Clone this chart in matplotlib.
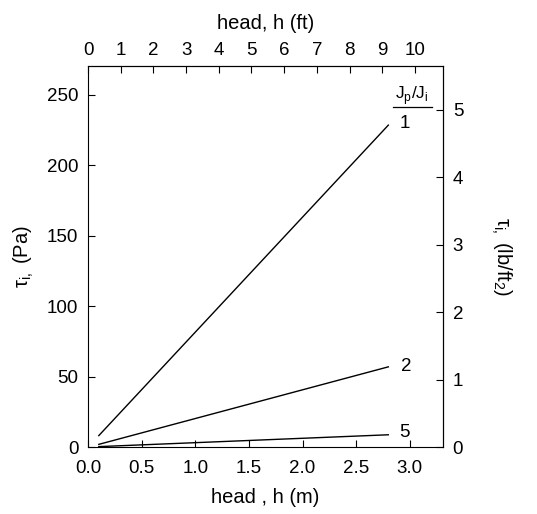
import matplotlib
matplotlib.use("Agg")
import matplotlib.pyplot as plt

plt.rcParams['font.family'] = ['Liberation Sans', 'DejaVu Sans']

# data
head_m = [0.1, 2.8]
tau_1 = [8.2, 228.5]
tau_2 = [2.0, 57.0]
tau_5 = [0.4, 8.8]
ratios = ["1", "2", "5"]
series = [tau_1, tau_2, tau_5]

x_ticks_m = [0.0, 0.5, 1.0, 1.5, 2.0, 2.5, 3.0]
x_ticks_ft = list(range(0, 11))
y_ticks_pa = [0, 50, 100, 150, 200, 250]
y_ticks_lb = [0, 1, 2, 3, 4, 5]

M2FT = 1 / 0.3048
PA2LB = 1 / 47.88

fig = plt.figure(figsize=(5.37, 5.14), dpi=100)
ax = fig.add_axes([0.164, 0.130, 0.661, 0.742])

for ys in series:
    ax.plot(head_m, ys, color='black', lw=1.0)

label_pos = {"1": (2.95, 230), "2": (2.97, 57.5), "5": (2.95, 10.5)}
for lab in ratios:
    x, y = label_pos[lab]
    ax.text(x, y, lab, fontsize=13.5, ha='center', va='center')

ax.text(3.02, 249.5, r"J$_\mathregular{p}$/J$_\mathregular{i}$", fontsize=12.5, ha='center', va='center')
ax.plot([2.84, 3.21], [241.5, 241.5], color='black', lw=0.9, clip_on=False)

ax.set_xlim(0, 3.31)
ax.set_ylim(0, 270.6)
ax.set_xticks(x_ticks_m)
ax.set_xticklabels([f"{v:.1f}" for v in x_ticks_m])
ax.set_yticks(y_ticks_pa)
ax.tick_params(direction='in', labelsize=13.5, length=5, width=0.8, pad=7)
ax.tick_params(axis='x', pad=9)
ax.set_xlabel("head , h (m)", fontsize=14.5, labelpad=8)
ax.set_ylabel(r"$\mathregular{\tau_{i,}}$ (Pa)", fontsize=14.5, labelpad=8)

top = ax.secondary_xaxis('top', functions=(lambda x: x * M2FT, lambda x: x / M2FT))
top.set_xticks(x_ticks_ft)
top.tick_params(direction='in', labelsize=13.5, length=5, width=0.8, pad=5)
top.set_xlabel("head, h (ft)", fontsize=14.5, labelpad=9)

right = ax.secondary_yaxis('right', functions=(lambda y: y * PA2LB, lambda y: y / PA2LB))
right.set_yticks(y_ticks_lb)
right.tick_params(direction='in', labelsize=13.5, length=5, width=0.8, pad=7)
right.set_ylabel(r"$\mathregular{\tau_{i,}}$ (lb/ft$_\mathregular{2}$)", fontsize=14.5,
                 rotation=270, labelpad=36)

for s in ax.spines.values():
    s.set_linewidth(0.8)

fig.savefig("out.png", dpi=100)
